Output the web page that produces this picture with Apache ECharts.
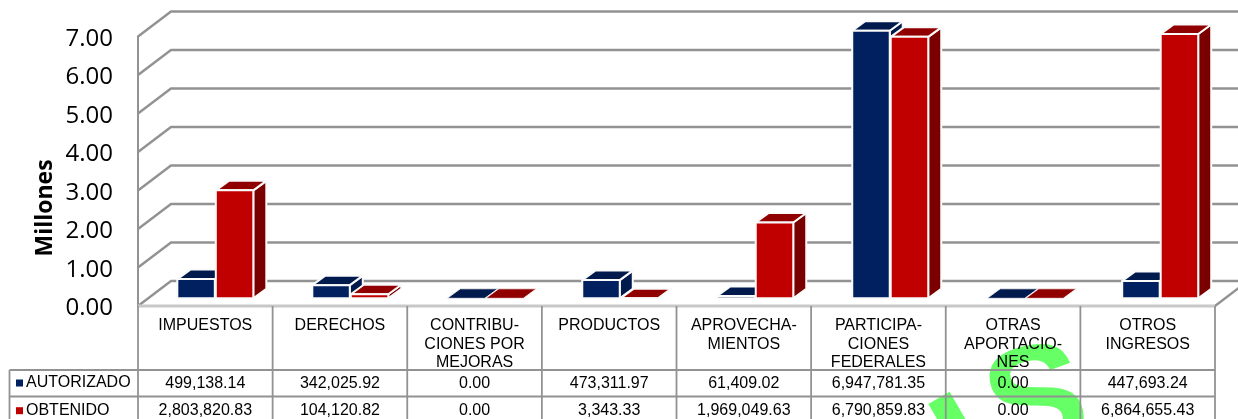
<!DOCTYPE html>
<html>
<head>
<meta charset="utf-8">
<title>Ingresos</title>
<script src="https://cdn.jsdelivr.net/npm/echarts@6/dist/echarts.min.js"></script>
<style>
  html, body { margin: 0; padding: 0; background: #fff; }
  #chart { width: 1238px; height: 419px; }
</style>
</head>
<body>
<div id="chart"></div>
<script>
const categories = [
  'IMPUESTOS',
  'DERECHOS',
  'CONTRIBU-\nCIONES POR\nMEJORAS',
  'PRODUCTOS',
  'APROVECHA-\nMIENTOS',
  'PARTICIPA-\nCIONES\nFEDERALES',
  'OTRAS\nAPORTACIO-\nNES',
  'OTROS\nINGRESOS'
];
const autorizado = [499138.14, 342025.92, 0, 473311.97, 61409.02, 6947781.35, 0, 447693.24];
const obtenido = [2803820.83, 104120.82, 0, 3343.33, 1969049.63, 6790859.83, 0, 6864655.43];
const yTicks = [0, 1000000, 2000000, 3000000, 4000000, 5000000, 6000000, 7000000];

const GRID_LINE = '#929292';
const FONT_TABLE = '"Liberation Sans", Arial, sans-serif';

const money = v => v.toLocaleString('en-US', { minimumFractionDigits: 2, maximumFractionDigits: 2 });

// back wall sits this far up and to the right of the front plane
const WALL_DX = 33;
const WALL_DY = -25;

function renderWall(params, api) {
  const cs = params.coordSys;
  const y = api.coord([0, api.value(0)])[1];
  const left = cs.x;
  const right = cs.x + cs.width;
  const children = [{
    type: 'polyline',
    shape: { points: [[left, y], [left + WALL_DX, y + WALL_DY], [right + WALL_DX, y + WALL_DY]] },
    style: { fill: null, stroke: GRID_LINE, lineWidth: 2.4 }
  }];
  if (api.value(0) === 0) {
    children.push({
      type: 'line',
      shape: { x1: right, y1: y, x2: right + WALL_DX, y2: y + WALL_DY },
      style: { stroke: GRID_LINE, lineWidth: 2.4 }
    });
    children.push({
      type: 'line',
      shape: { x1: left, y1: y, x2: right, y2: y },
      style: { stroke: '#c8c8c8', lineWidth: 3 }
    });
  }
  return { type: 'group', children };
}

// one 3d column: front face, top, side
function barRenderer(side, front, top, flank) {
  return function (params, api) {
    const i = api.value(0);
    const w = 37.5;
    const base = api.coord([i, 0]);
    const tip = api.coord([i, api.value(1)]);
    const ox = 10 + 0.36 * i;
    const oy = -7.7;
    const x0 = base[0] + ox + (side === 0 ? -w - 0.5 : 0.5);
    const x1 = x0 + w;
    const yb = base[1] + oy;
    const yt = tip[1] + oy;
    const dx = 13;
    const dy = -9.5;
    const edge = { stroke: '#fafafa', lineWidth: 2, lineJoin: 'round' };
    return {
      type: 'group',
      children: [
        {
          type: 'polygon',
          shape: { points: [[x1, yb], [x1 + dx, yb + dy], [x1 + dx, yt + dy], [x1, yt]] },
          style: Object.assign({ fill: flank }, edge)
        },
        {
          type: 'polygon',
          shape: { points: [[x0, yt], [x1, yt], [x1 + dx, yt + dy], [x0 + dx, yt + dy]] },
          style: Object.assign({ fill: top }, api.value(1) > 0 ? edge : { stroke: '#fafafa', lineWidth: 0.8 })
        },
        {
          type: 'rect',
          shape: { x: x0, y: yt, width: x1 - x0, height: yb - yt },
          style: Object.assign({ fill: front }, api.value(1) > 0 ? edge : { stroke: null })
        }
      ]
    };
  };
}

const ROW_TOP = 370;
const ROW_MID = 396.5;
const TABLE_END = 430;
const LEGEND_LEFT = 9.5;

function renderTable(params, api) {
  const i = api.value(0);
  const cs = params.coordSys;
  const band = api.size([1, 0])[0];
  const cx = api.coord([i, 0])[0];
  const xr = cx + band / 2;
  const xl = cx - band / 2;
  const line = (x1, y1, x2, y2) => ({
    type: 'line',
    shape: { x1, y1, x2, y2 },
    style: { stroke: GRID_LINE, lineWidth: 1.8 }
  });
  const cell = (text, y) => ({
    type: 'text',
    x: cx,
    y,
    style: { text, fill: '#000', font: '16px ' + FONT_TABLE, align: 'center', verticalAlign: 'middle' }
  });
  const children = [
    line(xr, cs.y + cs.height, xr, TABLE_END),
    line(xl, ROW_TOP, xr, ROW_TOP),
    line(xl, ROW_MID, xr, ROW_MID),
    cell(money(autorizado[i]), 383.5),
    cell(money(obtenido[i]), 411)
  ];
  if (i === 0) {
    children.push(line(xl, cs.y + cs.height, xl, TABLE_END));
    children.push(line(LEGEND_LEFT, ROW_TOP, LEGEND_LEFT, TABLE_END));
    children.push(line(LEGEND_LEFT, ROW_TOP, xl, ROW_TOP));
    children.push(line(LEGEND_LEFT, ROW_MID, xl, ROW_MID));
  }
  return { type: 'group', children };
}

const chart = echarts.init(document.getElementById('chart'), null, { renderer: 'canvas' });
chart.setOption({
  animation: false,
  backgroundColor: '#fff',
  grid: { left: 138, top: 36.5, width: 1077, height: 269.5 },
  legend: {
    orient: 'vertical',
    left: 16,
    top: 375,
    height: 60,
    padding: 0,
    itemWidth: 7,
    itemHeight: 7,
    itemGap: 11.7,
    icon: 'rect',
    selectedMode: false,
    data: ['AUTORIZADO', 'OBTENIDO'],
    textStyle: { color: '#000', fontFamily: FONT_TABLE, fontSize: 16, lineHeight: 16, padding: [0, 0, 0, -2] }
  },
  xAxis: {
    type: 'category',
    data: categories,
    axisLine: { show: false },
    axisTick: { show: false },
    axisLabel: {
      interval: 0,
      margin: 10,
      color: '#000',
      fontFamily: FONT_TABLE,
      fontSize: 16,
      lineHeight: 18.8
    }
  },
  yAxis: {
    type: 'value',
    min: 0,
    max: 7000000,
    interval: 1000000,
    splitLine: { show: false },
    axisTick: { show: false },
    axisLine: { show: true, lineStyle: { color: GRID_LINE, width: 2 } },
    axisLabel: {
      margin: 25,
      verticalAlign: 'top',
      lineHeight: 5,
      color: '#000',
      fontFamily: '"Open Sans", sans-serif',
      fontSize: 24,
      formatter: v => (v / 1000000).toFixed(2)
    }
  },
  graphic: [
    {
      type: 'text',
      x: 45,
      y: 208,
      rotation: Math.PI / 2,
      style: {
        text: 'Millones',
        fill: '#000',
        font: 'bold 23px "Open Sans", sans-serif',
        align: 'center',
        verticalAlign: 'middle'
      }
    },
    {
      type: 'text',
      z: -1,
      x: 996,
      y: 544,
      rotation: Math.PI / 6,
      style: {
        text: 'I',
        fill: '#66ff66',
        font: 'bold 170px "Liberation Sans", Arial, sans-serif',
        align: 'left',
        verticalAlign: 'bottom'
      }
    },
    {
      type: 'text',
      z: -1,
      x: 1004,
      y: 492,
      rotation: Math.PI / 15,
      style: {
        text: 'S',
        fill: '#66ff66',
        font: 'bold 150px "Liberation Sans", Arial, sans-serif',
        align: 'left',
        verticalAlign: 'bottom'
      }
    }
  ],
  series: [
    {
      type: 'custom',
      name: 'wall',
      z: 1,
      clip: false,
      silent: true,
      encode: { y: 0 },
      renderItem: renderWall,
      data: yTicks.map(v => [v])
    },
    {
      type: 'custom',
      name: 'tabla',
      z: 3,
      clip: false,
      silent: true,
      encode: { x: 0 },
      renderItem: renderTable,
      data: categories.map((c, i) => [i])
    },
    {
      type: 'custom',
      name: 'AUTORIZADO',
      z: 4,
      clip: false,
      itemStyle: { color: '#002060' },
      encode: { x: 0, y: 1 },
      renderItem: barRenderer(0, '#002060', '#001a4e', '#001a4e'),
      data: autorizado.map((v, i) => [i, v])
    },
    {
      type: 'custom',
      name: 'OBTENIDO',
      z: 5,
      clip: false,
      itemStyle: { color: '#c00000' },
      encode: { x: 0, y: 1 },
      renderItem: barRenderer(1, '#c00000', '#900000', '#7a0000'),
      data: obtenido.map((v, i) => [i, v])
    }
  ]
});
</script>
</body>
</html>
